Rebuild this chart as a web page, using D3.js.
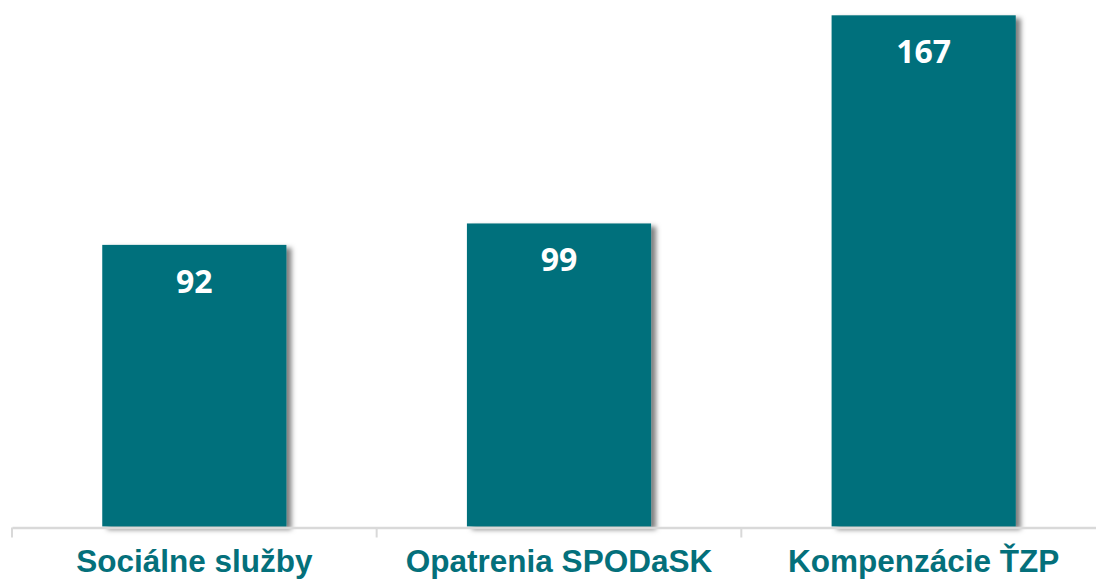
<!DOCTYPE html>
<html>
<head>
<meta charset="utf-8">
<script src="https://cdn.jsdelivr.net/npm/d3@7"></script>
<style>
  html, body { margin: 0; padding: 0; background: #fff; }
  svg { display: block; }
</style>
</head>
<body>
<svg id="chart"></svg>
<script>
// Chart data
const categories = ["Sociálne služby", "Opatrenia SPODaSK", "Kompenzácie ŤZP"];
const values = [92, 99, 167];

const width = 1096;
const height = 580;
const baseY = 526.5;
const teal = "#04707b";

const svg = d3.select("#chart")
    .attr("width", width)
    .attr("height", height);

// Shadow on the right side of bars
const defs = svg.append("defs");
const filter = defs.append("filter")
    .attr("id", "shadow")
    .attr("x", "-10%").attr("y", "-10%")
    .attr("width", "130%").attr("height", "130%");
filter.append("feDropShadow")
    .attr("dx", 5).attr("dy", 3)
    .attr("stdDeviation", 2.5)
    .attr("flood-color", "#000")
    .attr("flood-opacity", 0.5);

// Scales
const x = d3.scaleBand()
    .domain(categories)
    .range([12, 1106])
    .paddingInner(0.495)
    .paddingOuter(0.2475);

const y = d3.scaleLinear()
    .domain([0, 172])
    .range([baseY, 0]);

// Bars
svg.append("g")
    .selectAll("rect")
    .data(values)
    .join("rect")
    .attr("x", (d, i) => x(categories[i]))
    .attr("y", d => y(d))
    .attr("width", x.bandwidth())
    .attr("height", d => baseY - y(d))
    .attr("fill", teal)
    .attr("filter", "url(#shadow)");

// Value labels
svg.append("g")
    .selectAll("text")
    .data(values)
    .join("text")
    .attr("x", (d, i) => x(categories[i]) + x.bandwidth() / 2)
    .attr("y", d => y(d) + 48)
    .attr("text-anchor", "middle")
    .attr("font-family", "'Open Sans', sans-serif")
    .attr("font-weight", 700)
    .attr("font-size", 32)
    .attr("fill", "#fff")
    .text(d => d);

// X axis
const axis = svg.append("g")
    .attr("transform", `translate(0,${baseY + 1})`)
    .call(d3.axisBottom(x).tickSize(0).tickSizeOuter(0).tickFormat(""));
axis.select(".domain")
    .attr("stroke", "#d9d9d9")
    .attr("stroke-width", 2.5);

// Tick marks at band boundaries
const bounds = categories.map(c => x(c) - x.step() * x.paddingInner() / 2);
bounds.push(bounds[bounds.length - 1] + x.step());
axis.selectAll(".bound")
    .data(bounds)
    .join("line")
    .attr("class", "bound")
    .attr("x1", d => d).attr("x2", d => d)
    .attr("y1", 0).attr("y2", 10)
    .attr("stroke", "#d9d9d9")
    .attr("stroke-width", 2);

// Category labels
svg.append("g")
    .selectAll("text")
    .data(categories)
    .join("text")
    .attr("x", d => x(d) + x.bandwidth() / 2)
    .attr("y", 572)
    .attr("text-anchor", "middle")
    .attr("font-family", "'Liberation Sans', Arial, sans-serif")
    .attr("font-weight", 700)
    .attr("font-size", 31.5)
    .attr("fill", teal)
    .text(d => d);
</script>
</body>
</html>
